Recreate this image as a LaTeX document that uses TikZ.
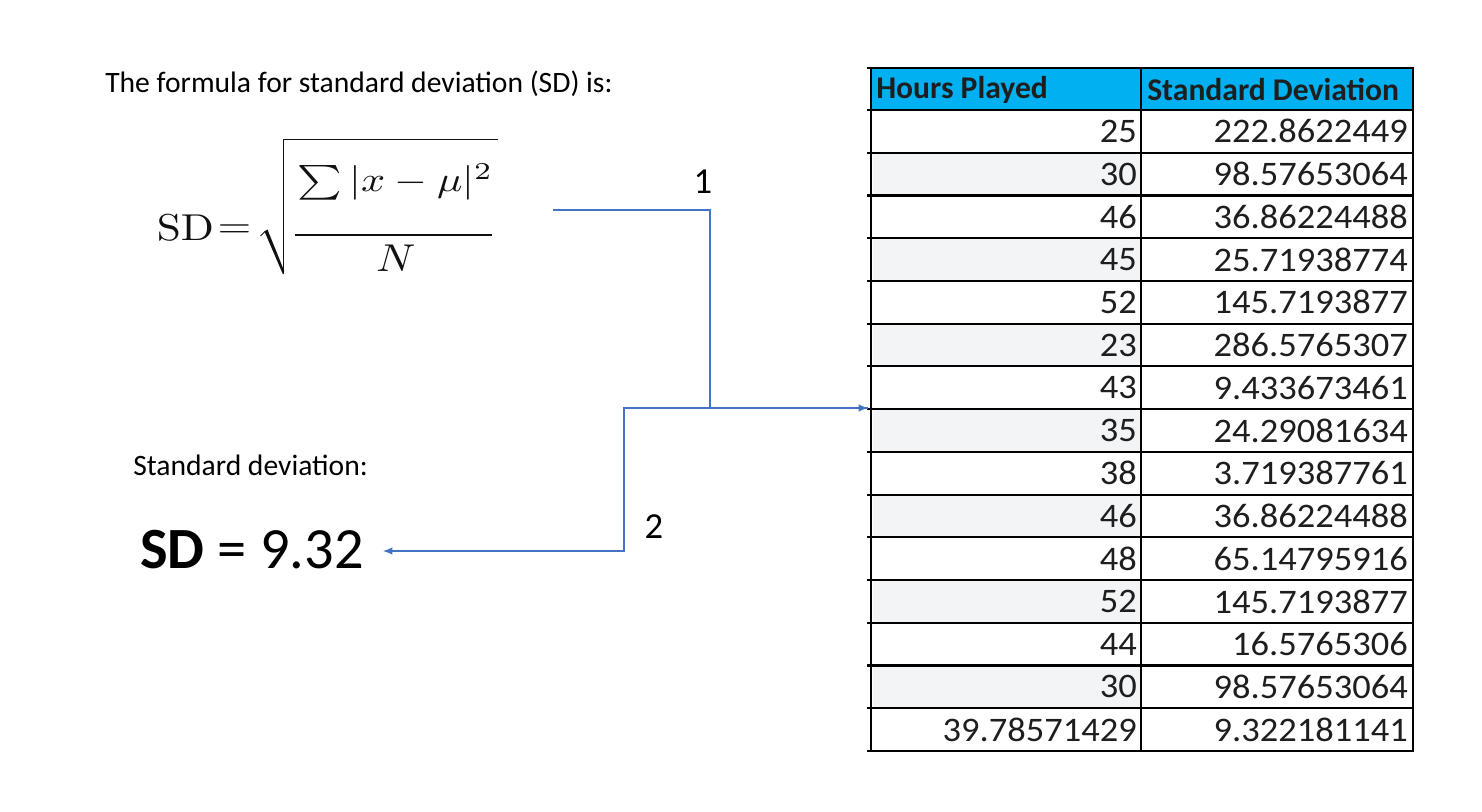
\documentclass[tikz,border=0pt]{standalone}
\usepackage[no-math]{fontspec}
\setmainfont{Carlito}
\newfontfamily\cellfont[FakeStretch=1.06]{Carlito}
\usetikzlibrary{arrows.meta}
\definecolor{conncol}{HTML}{4472C4}
\definecolor{headcol}{HTML}{00B0F0}
\definecolor{shadecol}{HTML}{F2F4F6}
\definecolor{celltext}{HTML}{1E1E1E}
\definecolor{mathcol}{HTML}{111111}
\tikzset{
  conn/.style={draw=conncol,line width=0.8pt},
  connarrow/.style={conn,-{Latex[length=7pt,width=5.5pt]}},
  gridline/.style={draw=black,line width=1.6pt},
  bodytext/.style={inner sep=0pt,font=\fontsize{22.2pt}{26pt}\selectfont},
  numlabel/.style={inner sep=0pt,font=\fontsize{27.5pt}{30pt}\selectfont},
  headtext/.style={inner sep=0pt,anchor=west,text=celltext,font=\bfseries\fontsize{23.7pt}{27pt}\selectfont},
  celltxt/.style={inner sep=0pt,anchor=east,text=celltext,font=\cellfont\fontsize{25.8pt}{28pt}\selectfont},
  mathpart/.style={inner sep=0pt,xscale=3.25,yscale=2.6,text=mathcol},
  mathrule/.style={draw=mathcol,line width=1.2pt},
}
\begin{document}
\begin{tikzpicture}[x=0.75pt,y=-0.75pt]
\useasboundingbox (0,0) rectangle (1482,812);
% left texts
\node[bodytext,anchor=base west] (title) at (105,93) {The formula for standard deviation (SD) is:};
% formula built from parts
\node[mathpart,anchor=base west,yscale=1.08] (fsd) at (156,240.5) {$\mathrm{SD}$};
\node[mathpart] (feq) at (234.5,231) {$=$};
\node[mathpart,anchor=south west,xscale=0.975] (fnum) at (297,201) {$\sum|x-\mu|^2$};
\node[mathpart,anchor=base,yscale=1.12] (fden) at (396,272) {$N$};
\draw[mathrule] (295,235) -- (492,235);
\draw[draw=mathcol,line width=0.7pt] (260.5,236) -- (265.5,231);
\fill[mathcol] (264.5,231.5) -- (267.5,229.5) -- (284.2,271) -- (283,274.5) -- cycle;
\draw[mathrule,line cap=rect] (283.3,273) -- (283.3,139.5) -- (497,139.5);
\node[bodytext,anchor=base west] (sdlab) at (133,476) {Standard deviation:};
\node[inner sep=0pt,anchor=base west,font=\fontsize{43.8pt}{48pt}\selectfont] (res) at (140,569) {\textbf{SD} = 9.32};
\node[numlabel] (l1) at (703,182) {1};
\node[numlabel] (l2) at (654,527) {2};
% table
\def\rh{42.73}
\fill[headcol] (871,68) rectangle (1413,110);
\foreach \h/\s [count=\i] in {25/222.8622449,30/98.57653064,46/36.86224488,45/25.71938774,52/145.7193877,23/286.5765307,43/9.433673461,35/24.29081634,38/3.719387761,46/36.86224488,48/65.14795916,52/145.7193877,44/16.5765306,30/98.57653064,39.78571429/9.322181141}{
  \pgfmathsetmacro\top{110+(\i-1)*\rh}
  \pgfmathsetmacro\mid{\top+\rh/2}
  \pgfmathsetmacro\bot{\top+\rh}
  \ifodd\i\else
    \fill[shadecol] (873,\top) rectangle (1140,\bot);
  \fi
  \node[celltxt] (h\i) at (1137,\mid) {\h};
  \node[celltxt] (s\i) at (1408,\mid) {\s};
}
\node[headtext] (hh) at (876,90) {Hours Played};
\node[headtext] (hs) at (1147,90) {Standard Deviation};
\foreach \i in {0,...,15}{
  \pgfmathsetmacro\yy{110+\i*\rh}
  \draw[gridline] (867,\yy) -- (1414,\yy);
}
\draw[gridline] (867,68) -- (1414,68);
\draw[gridline] (871,68) -- (871,751);
\draw[gridline] (1141,68) -- (1141,751);
\draw[gridline] (1413,68) -- (1413,751);
% connectors
\coordinate (c1) at (553,210);
\coordinate (tin) at (868,408);
\coordinate (rin) at (383,551);
\draw[connarrow] (c1) -- (710,210) |- (tin);
\draw[connarrow] (tin) -- (624,408) |- (rin);
\end{tikzpicture}
\end{document}
